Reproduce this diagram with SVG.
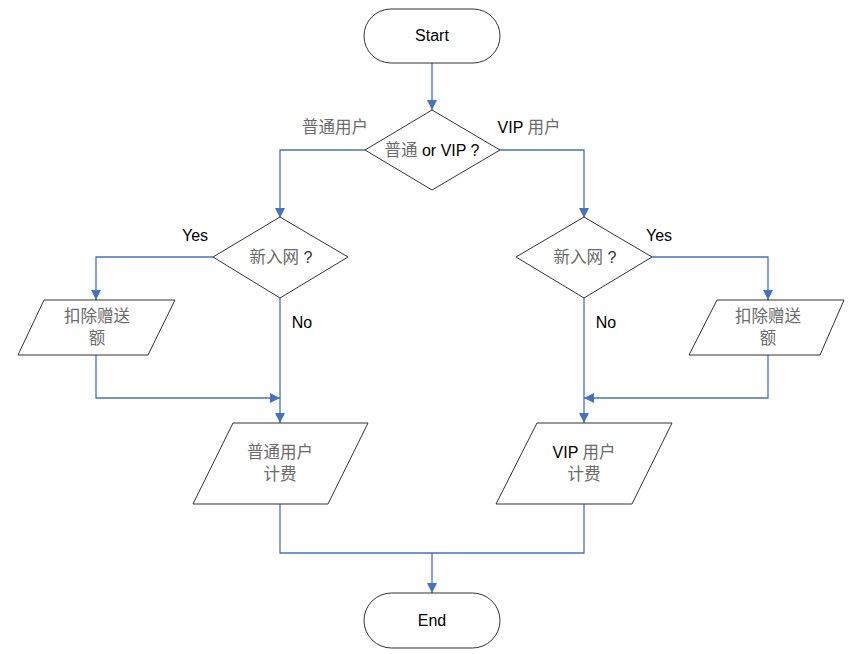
<svg xmlns="http://www.w3.org/2000/svg" width="858" height="654" viewBox="0 0 858 654">
<style>
.shape{fill:#fff;stroke:#333;stroke-width:1}
.line{fill:none;stroke:#4472C4;stroke-width:1.3}
text{font-family:"Liberation Sans","Noto Sans CJK SC",Arial,sans-serif;font-size:16px;fill:#000;text-anchor:middle}
.cn{fill:#6b6b6b;font-size:16.5px}
</style>
<defs>
<marker id="arr" viewBox="0 0 10 10" refX="10" refY="5" markerWidth="10" markerHeight="10" markerUnits="userSpaceOnUse" orient="auto">
<path d="M0,0 L10,5 L0,10 Z" fill="#4472C4"/>
</marker>
</defs>
<g id="connectors">
<path class="line" d="M432,63 V110" marker-end="url(#arr)"/>
<path class="line" d="M365,150 H280 V218" marker-end="url(#arr)"/>
<path class="line" d="M500,150 H584 V218" marker-end="url(#arr)"/>
<path class="line" d="M213,257 H96 V300" marker-end="url(#arr)"/>
<path class="line" d="M652,257 H768 V300" marker-end="url(#arr)"/>
<path class="line" d="M280,298 V423" marker-end="url(#arr)"/>
<path class="line" d="M584,298 V423" marker-end="url(#arr)"/>
<path class="line" d="M96,355 V398 H280" marker-end="url(#arr)"/>
<path class="line" d="M768,355 V398 H584" marker-end="url(#arr)"/>
<path class="line" d="M280,504 V553 H584 V504"/>
<path class="line" d="M432,553 V593" marker-end="url(#arr)"/>
<text x="335" y="133" class="cn">普通用户</text>
<text x="529" y="133"><tspan>VIP </tspan><tspan class="cn">用户</tspan></text>
<text x="195" y="241">Yes</text>
<text x="302" y="328">No</text>
<text x="659" y="241">Yes</text>
<text x="606" y="328">No</text>
</g>
<g id="start">
<rect class="shape" x="364" y="9" width="136" height="54" rx="27"/>
<text x="432" y="41">Start</text>
</g>
<g id="decision1">
<path class="shape" d="M432,110 L500,150 L432,190 L365,150 Z"/>
<text x="432" y="156"><tspan class="cn">普通</tspan><tspan> or VIP ?</tspan></text>
</g>
<g id="decision-left">
<path class="shape" d="M280,217 L348,257 L280,298 L213,257 Z"/>
<text x="281" y="263"><tspan class="cn">新入网</tspan><tspan fill="#333"> ?</tspan></text>
</g>
<g id="decision-right">
<path class="shape" d="M584,217 L652,257 L584,298 L516,257 Z"/>
<text x="585" y="263"><tspan class="cn">新入网</tspan><tspan fill="#333"> ?</tspan></text>
</g>
<g id="deduct-left">
<path class="shape" d="M44,300 L175,300 L148,355 L18,355 Z"/>
<text x="97" y="322" class="cn">扣除赠送</text>
<text x="97" y="344" class="cn">额</text>
</g>
<g id="deduct-right">
<path class="shape" d="M717,300 L844,300 L820,355 L689,355 Z"/>
<text x="768" y="322" class="cn">扣除赠送</text>
<text x="768" y="344" class="cn">额</text>
</g>
<g id="bill-normal">
<path class="shape" d="M233,423 L368,423 L328,504 L193,504 Z"/>
<text x="280" y="458" class="cn">普通用户</text>
<text x="280" y="480" class="cn">计费</text>
</g>
<g id="bill-vip">
<path class="shape" d="M537,423 L672,423 L632,504 L496,504 Z"/>
<text x="584" y="458"><tspan>VIP </tspan><tspan class="cn">用户</tspan></text>
<text x="584" y="480" class="cn">计费</text>
</g>
<g id="end">
<rect class="shape" x="364" y="593" width="136" height="55" rx="27.5"/>
<text x="432" y="626">End</text>
</g>
</svg>
